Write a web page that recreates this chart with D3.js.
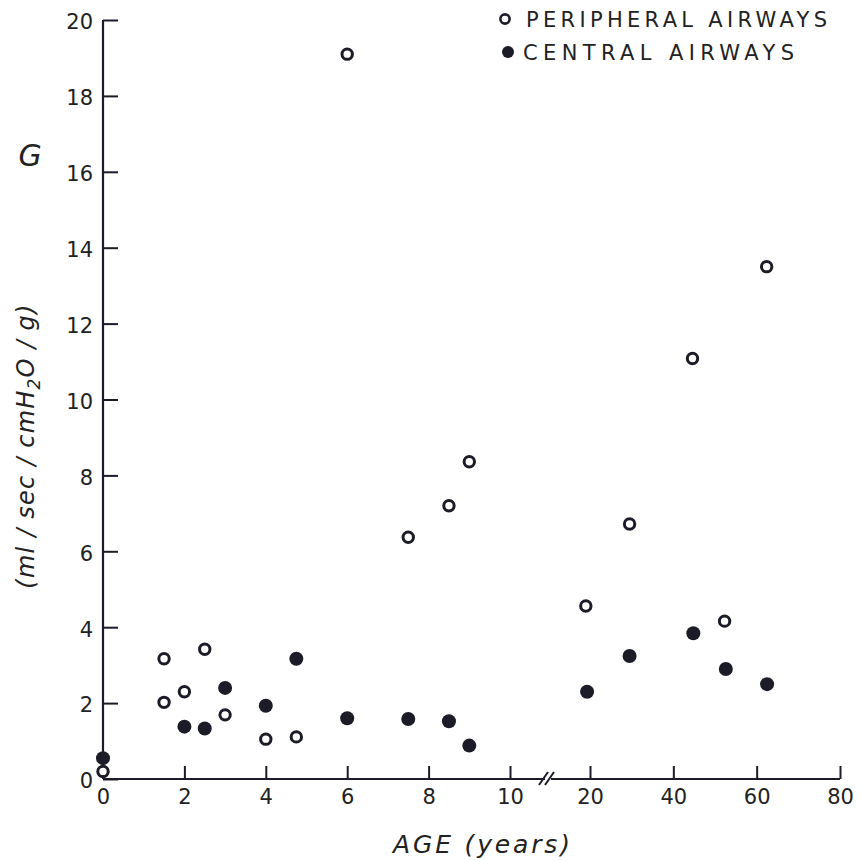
<!DOCTYPE html>
<html>
<head>
<meta charset="utf-8">
<script src="https://cdn.jsdelivr.net/npm/d3@7"></script>
<style>
  html, body { margin: 0; padding: 0; background: #ffffff; }
  svg { display: block; }
  text { font-family: "DejaVu Sans", "Liberation Sans", sans-serif; fill: #222; }
</style>
</head>
<body>
<svg id="chart" width="861" height="860"></svg>
<script>
// ---- data ----
const peripheralAge = [0, 1.5, 1.5, 2, 2.5, 3, 4, 4.75, 6, 7.5, 8.5, 9, 19, 29.5, 44.6, 52.3, 62.4];
const peripheralG   = [0.2, 3.17, 2.02, 2.3, 3.42, 1.69, 1.05, 1.11, 19.1, 6.37, 7.2, 8.36, 4.56, 6.72, 11.08, 4.16, 13.5];
const centralAge = [0, 2, 2.5, 3, 4, 4.75, 6, 7.5, 8.5, 9, 19.3, 29.5, 44.8, 52.6, 62.5];
const centralG   = [0.55, 1.38, 1.33, 2.4, 1.93, 3.17, 1.6, 1.58, 1.52, 0.88, 2.3, 3.24, 3.84, 2.9, 2.5];
const xTicksLeft = [0, 2, 4, 6, 8, 10];
const xTicksRight = [20, 40, 60, 80];
const yTicks = [0, 2, 4, 6, 8, 10, 12, 14, 16, 18, 20];
const seriesNames = ["PERIPHERAL AIRWAYS", "CENTRAL AIRWAYS"];

const ink = "#1c1c28";
const svg = d3.select("#chart");

// ---- scales (broken x axis) ----
const xLeft = d3.scaleLinear().domain([0, 10]).range([103, 510]);
const xRight = d3.scaleLinear().domain([20, 80]).range([590, 840]);
const x = v => (v <= 12 ? xLeft(v) : xRight(v));
const y = d3.scaleLinear().domain([0, 20]).range([779, 20]);

// ---- y axis ----
const yAxis = d3.axisLeft(y).tickValues(yTicks).tickSize(-15).tickPadding(10).tickFormat(d3.format("d"));
const gy = svg.append("g").attr("transform", `translate(${xLeft(0)},0)`).call(yAxis);
gy.select(".domain").attr("stroke", ink).attr("stroke-width", 2.2).attr("d", `M0,${y(20)}V${y(0)}`);
gy.selectAll(".tick line").attr("stroke", ink).attr("stroke-width", 2);
gy.selectAll(".tick text").attr("font-size", 21).attr("fill", "#222")
  .attr("font-family", "DejaVu Sans, sans-serif").attr("dy", "0.42em");

// ---- x axis (two segments) ----
function styleX(g) {
  g.select(".domain").remove();
  g.selectAll(".tick line").attr("stroke", ink).attr("stroke-width", 2);
  g.selectAll(".tick text").attr("font-size", 21).attr("fill", "#222")
    .attr("font-family", "DejaVu Sans, sans-serif");
}
const gxl = svg.append("g").attr("transform", `translate(0,${y(0)})`)
  .call(d3.axisBottom(xLeft).tickValues(xTicksLeft).tickSize(-13).tickPadding(10).tickFormat(d3.format("d")));
styleX(gxl);
const gxr = svg.append("g").attr("transform", `translate(0,${y(0)})`)
  .call(d3.axisBottom(xRight).tickValues(xTicksRight).tickSize(-13).tickPadding(10).tickFormat(d3.format("d")));
styleX(gxr);

const y0 = y(0);
svg.append("line").attr("x1", xLeft(0)).attr("x2", 545).attr("y1", y0).attr("y2", y0)
  .attr("stroke", ink).attr("stroke-width", 2.2);
svg.append("line").attr("x1", 551).attr("x2", xRight(80)).attr("y1", y0).attr("y2", y0)
  .attr("stroke", ink).attr("stroke-width", 2.2);
// break marks
[[539, 547], [545, 553]].forEach(([a, b]) => {
  svg.append("line").attr("x1", a).attr("y1", y0 + 6).attr("x2", b + 1).attr("y2", y0 - 7)
    .attr("stroke", ink).attr("stroke-width", 2);
});

// ---- points ----
const peripheral = peripheralAge.map((a, i) => ({ a, g: peripheralG[i] }));
const central = centralAge.map((a, i) => ({ a, g: centralG[i] }));

svg.append("g").selectAll("circle").data(central).join("circle")
  .attr("cx", d => x(d.a)).attr("cy", d => y(d.g)).attr("r", 7)
  .attr("fill", ink);

svg.append("g").selectAll("circle").data(peripheral).join("circle")
  .attr("cx", d => x(d.a)).attr("cy", d => y(d.g)).attr("r", 5.2)
  .attr("fill", "#ffffff").attr("stroke", ink).attr("stroke-width", 3);

// ---- legend ----
const lg = svg.append("g");
lg.append("circle").attr("cx", 505).attr("cy", 19).attr("r", 4.6)
  .attr("fill", "#fff").attr("stroke", ink).attr("stroke-width", 2.6);
lg.append("circle").attr("cx", 508).attr("cy", 52).attr("r", 6).attr("fill", ink);
lg.append("text").attr("x", 526).attr("y", 27).attr("font-size", 21)
  .attr("textLength", 301).attr("lengthAdjust", "spacing").text(seriesNames[0]);
lg.append("text").attr("x", 523).attr("y", 60).attr("font-size", 21)
  .attr("textLength", 271).attr("lengthAdjust", "spacing").text(seriesNames[1]);

// ---- axis titles ----
svg.append("text").attr("x", 393).attr("y", 853).attr("font-size", 25)
  .attr("font-style", "italic").attr("textLength", 177).attr("lengthAdjust", "spacing")
  .text("AGE (years)");

svg.append("text").attr("x", 30).attr("y", 166).attr("font-size", 30)
  .attr("font-style", "italic").attr("text-anchor", "middle").text("G");

const yt = svg.append("text").attr("transform", "translate(34,446) rotate(-90)")
  .attr("text-anchor", "middle").attr("font-size", 24).attr("font-style", "italic")
  .attr("letter-spacing", 1.2);
yt.append("tspan").text("(ml / sec / cmH");
yt.append("tspan").attr("font-size", 17).attr("dy", 6).text("2");
yt.append("tspan").attr("dy", -6).text("O / g)");
</script>
</body>
</html>
